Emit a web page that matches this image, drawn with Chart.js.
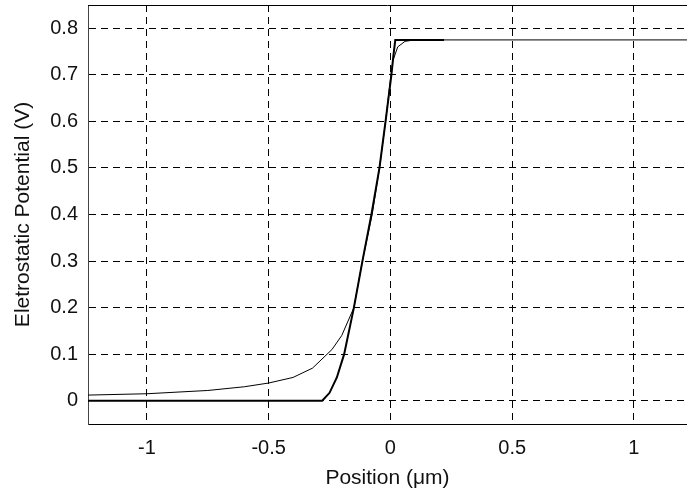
<!DOCTYPE html>
<html>
<head>
<meta charset="utf-8">
<script src="https://cdn.jsdelivr.net/npm/chart.js@4/dist/chart.umd.min.js"></script>
<style>
  html, body { margin: 0; padding: 0; background: #fff; }
  #wrap { width: 687px; height: 496px; }
</style>
</head>
<body>
<div id="wrap"><canvas id="potChart"></canvas></div>
<script>
// 곡선 A (부드러운 곡선, 얇은 선)
const smoothX = [-1.25, -1.0, -0.75, -0.6, -0.5, -0.4, -0.32, -0.24, -0.2, -0.15, -0.115, -0.075, -0.045, -0.02, 0.0, 0.01, 0.03, 0.06, 0.1, 1.25];
const smoothY = [0.012, 0.015, 0.022, 0.03, 0.038, 0.05, 0.07, 0.11, 0.14, 0.2, 0.3, 0.4, 0.5, 0.6, 0.69, 0.73, 0.76, 0.772, 0.775, 0.775];

// 곡선 B (급격한 곡선, 굵은 선)
const sharpX = [-1.25, -0.28, -0.25, -0.22, -0.19, -0.15, -0.115, -0.078, -0.045, -0.02, 0.004, 0.012, 0.02, 0.22];
const sharpY = [0, 0, 0.017, 0.05, 0.1, 0.2, 0.3, 0.4, 0.5, 0.6, 0.7, 0.74, 0.775, 0.775];

// 눈금
const xTicks = [-1, -0.5, 0, 0.5, 1];
const yTicks = [0, 0.1, 0.2, 0.3, 0.4, 0.5, 0.6, 0.7, 0.8];

function toPoints(xs, ys) {
    return xs.map((x, i) => ({ x: x, y: ys[i] }));
}

// 위쪽 테두리
const topBorder = {
    id: 'topBorder',
    afterDraw(chart) {
        const { ctx, chartArea } = chart;
        ctx.save();
        ctx.strokeStyle = '#000';
        ctx.lineWidth = 1;
        ctx.beginPath();
        ctx.moveTo(chartArea.left, chartArea.top + 0.5);
        ctx.lineTo(chartArea.right, chartArea.top + 0.5);
        ctx.stroke();
        ctx.restore();
    }
};

const tickFont = { family: 'Liberation Sans, Arial, sans-serif', size: 20 };
const titleFont = { family: 'Liberation Sans, Arial, sans-serif', size: 21 };

new Chart(document.getElementById('potChart').getContext('2d'), {
    type: 'scatter',
    data: {
        datasets: [
            {
                label: 'A',
                data: toPoints(smoothX, smoothY),
                showLine: true,
                borderColor: '#000',
                borderWidth: 1,
                pointRadius: 0,
                tension: 0
            },
            {
                label: 'B',
                data: toPoints(sharpX, sharpY),
                showLine: true,
                borderColor: '#000',
                borderWidth: 2,
                pointRadius: 0,
                tension: 0
            }
        ]
    },
    options: {
        responsive: true,
        maintainAspectRatio: false,
        animation: false,
        layout: { padding: { top: 5, right: 0, left: 0, bottom: 0 } },
        plugins: { legend: { display: false }, tooltip: { enabled: false } },
        scales: {
            x: {
                type: 'linear',
                min: -1.242,
                max: 1.218,
                afterBuildTicks: s => { s.ticks = xTicks.map(v => ({ value: v })); },
                afterFit: s => { s.height = 72; s.paddingLeft = 0; s.paddingRight = 0; },
                ticks: {
                    color: '#111',
                    font: tickFont,
                    padding: 12,
                    callback: v => String(v)
                },
                grid: { color: '#000', lineWidth: 1, drawTicks: false },
                border: { display: true, color: '#000', width: 1, dash: [7, 5] },
                title: {
                    display: true,
                    text: 'Position (μm)',
                    color: '#111',
                    font: titleFont,
                    padding: { top: 0, bottom: 5 }
                }
            },
            y: {
                type: 'linear',
                min: -0.05,
                max: 0.85,
                afterBuildTicks: s => { s.ticks = yTicks.map(v => ({ value: v })); },
                afterFit: s => { s.width = 88; s.paddingTop = 0; s.paddingBottom = 0; },
                ticks: {
                    color: '#111',
                    font: tickFont,
                    padding: 10,
                    callback: v => (v === 0 ? '0' : v.toFixed(1))
                },
                grid: { color: '#000', lineWidth: 1, drawTicks: false },
                border: { display: true, color: '#444', width: 1, dash: [7, 5] },
                title: {
                    display: true,
                    text: 'Eletrostatic Potential (V)',
                    color: '#111',
                    font: titleFont,
                    padding: { top: 11, bottom: 0 }
                }
            }
        }
    },
    plugins: [topBorder]
});
</script>
</body>
</html>
